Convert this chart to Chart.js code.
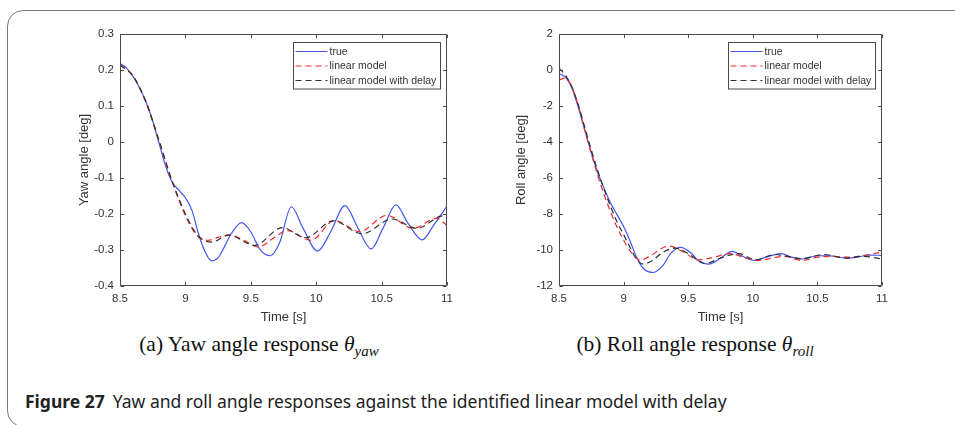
<!DOCTYPE html>
<html>
<head>
<meta charset="utf-8">
<script src="https://cdn.jsdelivr.net/npm/chart.js@4.4.1/dist/chart.umd.min.js"></script>
<style>
  html, body { margin: 0; padding: 0; background: #fff; }
  body { width: 955px; height: 425px; position: relative; overflow: hidden; }
  .frame { position: absolute; left: 7px; top: 10px; width: 1000px; height: 417px;
           border: 1.5px solid #7a7a7a; border-radius: 16px; box-sizing: border-box; }
  canvas { position: absolute; }
  .sub { position: absolute; top: 332px; font-family: "Liberation Serif", "Times New Roman", serif;
         font-size: 21.5px; color: #111; white-space: nowrap; transform: translateX(-50%); }
  .sub sub { font-size: 0.7em; vertical-align: -0.3em; line-height: 0; }
  .cap { position: absolute; left: 25px; top: 389px; font-family: "Noto Sans", "Open Sans", sans-serif;
         font-size: 17.5px; color: #222; white-space: nowrap; }
  .cap b { margin-right: 8px; }
</style>
</head>
<body>
<div class="frame"></div>
<canvas id="yaw" width="400" height="306" style="left:60px; top:21px;"></canvas>
<canvas id="roll" width="395" height="306" style="left:500px; top:21px;"></canvas>
<div class="sub" style="left:259px;">(a) Yaw angle response <i>θ</i><sub><i>yaw</i></sub></div>
<div class="sub" style="left:695px;">(b) Roll angle response <i>θ</i><sub><i>roll</i></sub></div>
<div class="cap"><b>Figure 27</b>Yaw and roll angle responses against the identified linear model with delay</div>

<script>
// Axis tick values
const timeTicks = [8.5, 9, 9.5, 10, 10.5, 11];
const yawTicks = [-0.4, -0.3, -0.2, -0.1, 0, 0.1, 0.2, 0.3];
const rollTicks = [-12, -10, -8, -6, -4, -2, 0, 2];

const seriesNames = ['true', 'linear model', 'linear model with delay'];

// Yaw angle [deg] — measured response
const yawTrueT = [8.50, 8.55, 8.60, 8.65, 8.70, 8.75, 8.80, 8.85, 8.90, 8.95, 9.00, 9.05, 9.10, 9.15, 9.20, 9.25, 9.30, 9.35, 9.43, 9.50, 9.57, 9.65, 9.72, 9.81, 9.90, 10.01, 10.11, 10.22, 10.32, 10.42, 10.51, 10.61, 10.70, 10.81, 10.90, 11.00];
const yawTrueV = [0.218, 0.205, 0.182, 0.150, 0.110, 0.058, -0.005, -0.068, -0.112, -0.134, -0.155, -0.190, -0.255, -0.305, -0.330, -0.322, -0.290, -0.255, -0.224, -0.250, -0.298, -0.316, -0.280, -0.180, -0.240, -0.303, -0.250, -0.177, -0.240, -0.297, -0.240, -0.175, -0.225, -0.272, -0.230, -0.178];

// Yaw angle [deg] — linear model
const yawLinT = [8.50, 8.60, 8.70, 8.80, 8.90, 9.00, 9.05, 9.10, 9.17, 9.25, 9.34, 9.45, 9.56, 9.67, 9.78, 9.96, 10.14, 10.33, 10.54, 10.74, 10.92, 11.00];
const yawLinV = [0.215, 0.183, 0.108, 0.000, -0.112, -0.205, -0.240, -0.264, -0.273, -0.265, -0.258, -0.274, -0.292, -0.268, -0.246, -0.273, -0.218, -0.249, -0.204, -0.240, -0.212, -0.232];

// Yaw angle [deg] — linear model with delay
const yawDelT = [8.50, 8.60, 8.70, 8.80, 8.90, 9.00, 9.05, 9.10, 9.20, 9.33, 9.53, 9.74, 9.92, 10.13, 10.35, 10.58, 10.77, 10.97, 11.00];
const yawDelV = [0.213, 0.183, 0.110, 0.002, -0.110, -0.200, -0.236, -0.262, -0.278, -0.259, -0.287, -0.238, -0.266, -0.219, -0.255, -0.214, -0.240, -0.205, -0.206];

// Roll angle [deg] — measured response
const rollTrueT = [8.50, 8.55, 8.60, 8.65, 8.70, 8.75, 8.80, 8.85, 8.90, 8.95, 9.00, 9.05, 9.10, 9.15, 9.23, 9.30, 9.37, 9.44, 9.52, 9.58, 9.66, 9.75, 9.84, 9.92, 10.01, 10.11, 10.22, 10.30, 10.38, 10.50, 10.60, 10.72, 10.82, 10.90, 11.00];
const rollTrueV = [-0.20, -0.40, -1.00, -2.10, -3.35, -4.60, -5.70, -6.60, -7.40, -8.05, -8.70, -9.50, -10.40, -11.00, -11.25, -10.90, -10.15, -9.85, -10.15, -10.60, -10.78, -10.45, -10.08, -10.35, -10.58, -10.38, -10.20, -10.40, -10.50, -10.32, -10.33, -10.45, -10.38, -10.28, -10.30];

// Roll angle [deg] — linear model
const rollLinT = [8.50, 8.55, 8.60, 8.65, 8.70, 8.75, 8.80, 8.85, 8.90, 8.95, 9.00, 9.05, 9.13, 9.20, 9.35, 9.45, 9.58, 9.70, 9.82, 9.95, 10.05, 10.15, 10.25, 10.38, 10.50, 10.60, 10.75, 10.90, 11.00];
const rollLinV = [-0.55, -0.45, -0.95, -2.00, -3.35, -4.65, -5.85, -6.95, -7.90, -8.75, -9.45, -10.05, -10.57, -10.35, -9.78, -10.05, -10.55, -10.40, -10.20, -10.45, -10.58, -10.45, -10.35, -10.58, -10.40, -10.35, -10.40, -10.25, -10.12];

// Roll angle [deg] — linear model with delay
const rollDelT = [8.50, 8.55, 8.60, 8.65, 8.70, 8.75, 8.80, 8.85, 8.90, 8.95, 9.00, 9.05, 9.10, 9.15, 9.22, 9.30, 9.40, 9.50, 9.63, 9.75, 9.89, 10.02, 10.17, 10.38, 10.55, 10.72, 10.85, 11.00];
const rollDelV = [0.10, -0.30, -0.95, -1.95, -3.20, -4.45, -5.60, -6.65, -7.60, -8.45, -9.15, -9.85, -10.50, -10.78, -10.60, -10.15, -9.90, -10.20, -10.75, -10.45, -10.20, -10.55, -10.25, -10.48, -10.25, -10.45, -10.35, -10.50];

const styles = [
  { color: '#4356f2', dash: [], width: 1.2, order: 3 },
  { color: '#ee2b2b', dash: [6, 4], width: 1.2, order: 2 },
  { color: '#303030', dash: [6, 4], width: 1.2, order: 1 }
];

const tickFont = { family: '"Liberation Sans", Arial, sans-serif', size: 11.5 };
const titleFont = { family: '"Liberation Sans", Arial, sans-serif', size: 13 };
const legendFont = '10.5px "Liberation Sans", Arial, sans-serif';
const axisColor = '#4a4a4a';
const textColor = '#333';

function pts(ts, vs) { return ts.map((t, i) => ({ x: t, y: vs[i] })); }

// Box around the axes with inward ticks on all four sides
const axesBox = {
  id: 'axesBox',
  afterDatasetsDraw(chart) {
    const { ctx, chartArea: a, scales: { x, y } } = chart;
    const L = Math.round(a.left) + 0.5, R = Math.round(a.right) - 0.5;
    const T = Math.round(a.top) + 0.5, B = Math.round(a.bottom) - 0.5;
    ctx.save();
    ctx.strokeStyle = axisColor;
    ctx.lineWidth = 1;
    ctx.setLineDash([]);
    ctx.beginPath();
    ctx.rect(L, T, R - L, B - T);
    const tl = 3.5;
    x.ticks.forEach(t => {
      const px = Math.round(x.getPixelForValue(t.value)) + 0.5;
      ctx.moveTo(px, B); ctx.lineTo(px, B - tl);
      ctx.moveTo(px, T); ctx.lineTo(px, T + tl);
    });
    y.ticks.forEach(t => {
      const py = Math.round(y.getPixelForValue(t.value)) + 0.5;
      ctx.moveTo(L, py); ctx.lineTo(L + tl, py);
      ctx.moveTo(R, py); ctx.lineTo(R - tl, py);
    });
    ctx.stroke();
    ctx.restore();
  }
};

// Boxed legend in the upper right corner of the axes
const boxedLegend = {
  id: 'boxedLegend',
  afterDraw(chart) {
    const { ctx, chartArea: a } = chart;
    const dss = chart.data.datasets;
    ctx.save();
    ctx.font = legendFont;
    const textW = Math.max(...dss.map(d => ctx.measureText(d.label).width));
    const sample = 32, rowH = 14.5;
    const w = 2 + sample + 2 + textW + 5;
    const h = rowH * dss.length + 3;
    const right = Math.round(a.right) - 6.5;
    const left = Math.round(right - w) + 0.5;
    const top = Math.round(a.top) + 8.5;
    ctx.fillStyle = '#fff';
    ctx.fillRect(left, top, right - left, h);
    ctx.strokeStyle = axisColor;
    ctx.lineWidth = 1;
    ctx.strokeRect(left, top, right - left, h);
    dss.forEach((d, i) => {
      const cy = top + 9 + i * rowH;
      ctx.beginPath();
      ctx.strokeStyle = d.borderColor;
      ctx.lineWidth = d.borderWidth;
      ctx.setLineDash(d.borderDash || []);
      ctx.moveTo(left + 2, cy);
      ctx.lineTo(left + 2 + sample, cy);
      ctx.stroke();
      ctx.setLineDash([]);
      ctx.fillStyle = textColor;
      ctx.textBaseline = 'middle';
      ctx.textAlign = 'left';
      ctx.fillText(d.label, left + 4 + sample, cy + 0.5);
    });
    ctx.restore();
  }
};

function makeChart(id, series, yMin, yMax, yTicks, yTitle, fmt, yWidth, yTitlePad) {
  const datasets = series.map((s, i) => ({
    label: seriesNames[i],
    data: pts(s[0], s[1]),
    borderColor: styles[i].color,
    borderWidth: styles[i].width,
    borderDash: styles[i].dash,
    order: styles[i].order,
    pointRadius: 0,
    fill: false,
    cubicInterpolationMode: 'monotone'
  }));
  return new Chart(document.getElementById(id), {
    type: 'line',
    data: { datasets },
    plugins: [axesBox, boxedLegend],
    options: {
      responsive: false,
      animation: false,
      events: [],
      devicePixelRatio: 1,
      layout: { padding: { left: 0, top: 10, right: 13, bottom: 2 } },
      plugins: { legend: { display: false }, tooltip: { enabled: false } },
      scales: {
        x: {
          type: 'linear', min: 8.5, max: 11,
          afterBuildTicks: sc => { sc.ticks = timeTicks.map(v => ({ value: v })); },
          afterFit: sc => { sc.height = 39; },
          grid: { display: false, drawTicks: false },
          border: { display: false },
          ticks: { font: tickFont, color: textColor, padding: 6, maxRotation: 0, autoSkip: false,
                   callback: v => String(v) },
          title: { display: true, text: 'Time [s]', font: titleFont, color: textColor, padding: { top: 0, bottom: 0 } }
        },
        y: {
          type: 'linear', min: yMin, max: yMax,
          afterBuildTicks: sc => { sc.ticks = yTicks.map(v => ({ value: v })); },
          afterFit: sc => { sc.width = yWidth; },
          grid: { display: false, drawTicks: false },
          border: { display: false },
          ticks: { font: tickFont, color: textColor, padding: 6, autoSkip: false, callback: fmt },
          title: { display: true, text: yTitle, font: titleFont, color: textColor, padding: { top: yTitlePad, bottom: 0 } }
        }
      }
    }
  });
}

makeChart('yaw',
  [[yawTrueT, yawTrueV], [yawLinT, yawLinV], [yawDelT, yawDelV]],
  -0.4, 0.3, yawTicks, 'Yaw angle [deg]',
  v => String(Math.round(v * 10) / 10), 60, 17);

makeChart('roll',
  [[rollTrueT, rollTrueV], [rollLinT, rollLinV], [rollDelT, rollDelV]],
  -12, 2, rollTicks, 'Roll angle [deg]',
  v => String(Math.round(v)), 59, 14);
</script>
</body>
</html>
